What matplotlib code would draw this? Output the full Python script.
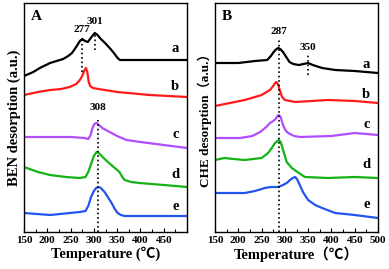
import matplotlib
matplotlib.use("Agg")
import matplotlib.pyplot as plt
from matplotlib.ticker import MultipleLocator

plt.rcParams['font.family'] = ['Liberation Serif', 'Noto Sans CJK SC', 'DejaVu Sans']
plt.rcParams['font.weight'] = 'bold'

colors = ['black', '#ff1a1a', '#b24dff', '#13b313', '#2255ee']
names = ['a', 'b', 'c', 'd', 'e']

# panel A: BEN desorption
tA = [
    [150, 170, 184, 206, 220, 234, 245, 253, 262, 270, 275, 281, 287, 295, 302, 308, 313,
     324, 334, 343, 351, 356, 360, 500],
    [150, 180, 206, 230, 248, 262, 270, 275, 279, 283, 286, 289, 292, 298, 310, 350, 420, 500],
    [150, 200, 250, 280, 288, 293, 297, 301, 306, 311, 318, 334, 350, 370, 400, 450, 500],
    [150, 180, 206, 240, 270, 282, 288, 294, 300, 306, 310, 315, 323, 335, 345, 355, 361,
     366, 380, 398, 450, 500],
    [150, 206, 270, 282, 288, 294, 300, 305, 310, 315, 323, 330, 338, 345, 351, 358, 366, 420, 500],
]
yA = [
    [156, 160, 164, 169, 171, 173, 176, 179, 185, 191, 193, 191, 190, 195, 199, 197, 194,
     189, 184, 179, 174, 172, 172, 172],
    [137, 140, 142, 143, 145, 148, 152, 156, 161, 164, 160, 150, 146, 144, 143, 140, 137, 135],
    [95, 95, 95, 94, 93, 97, 104, 108, 109, 107, 104, 100, 96, 92, 90, 87, 84],
    [65, 60, 57, 55, 54, 55, 60, 68, 76, 80, 79, 77, 73, 68, 64, 60, 55,
     52, 50, 49, 47, 45],
    [19, 17, 20, 21, 26, 35, 41, 44, 45, 44, 40, 35, 29, 23, 19, 17, 16, 16, 16],
]
labA_y = [183, 146, 97, 57, 26]

# panel B: CHE desorption
tB = [
    [150, 200, 236, 262, 270, 276, 282, 286, 290, 296, 303, 310, 318, 330, 340, 350, 360,
     380, 408, 450, 500],
    [150, 214, 250, 268, 275, 279, 282, 285, 289, 294, 300, 322, 393, 450, 500],
    [150, 204, 230, 247, 260, 268, 275, 280, 284, 287, 291, 296, 301, 307, 320, 332, 400, 450, 500],
    [150, 170, 190, 214, 250, 264, 272, 279, 284, 287, 291, 295, 300, 304, 315, 330, 343,
     393, 450, 500],
    [150, 214, 236, 250, 257, 270, 286, 296, 304, 311, 317, 322, 326, 332, 340, 350, 365,
     380, 408, 450, 500],
]
yB = [
    [169, 169, 171, 172, 176, 180, 183, 184, 183, 180, 175, 170, 168, 167, 168, 169, 167,
     164, 162, 161, 159],
    [126, 132, 137, 142, 146, 149, 150, 148, 142, 135, 132, 130, 132, 131, 129],
    [94, 94, 96, 100, 105, 109, 111, 113, 116, 117, 115, 107, 102, 99, 96, 95, 96, 99, 97],
    [72, 74, 73, 72, 74, 79, 84, 89, 91, 92, 90, 84, 76, 70, 64, 59, 55,
     54, 55, 54],
    [39, 39, 41, 43, 44, 45, 45, 47, 49, 52, 54, 55, 53, 47, 39, 32, 27,
     24, 19, 17, 14],
]
labB_y = [167, 137, 107, 67, 27]

# dashed peak markers: (temp, y0, y1, label, label_y)
peaksA = [(275, 160, 193, '277', 203), (302, 182, 199, '301', 211), (308, 0, 114, '308', 124)]
peaksB = [(287, 0, 194, '287', 200), (350, 157, 177, '350', 185)]

fig = plt.figure(figsize=(3.89, 2.69), dpi=100)
axA = fig.add_axes([24/389, 37/269, 163/389, 229/269])
axB = fig.add_axes([215/389, 37/269, 163/389, 229/269])


def draw(ax, ts, ys, laby, peaks, letter, ylabel, xlabel, xticks, ylsize):
    for t, y, c in zip(ts, ys, colors):
        ax.plot(t, y, color=c, lw=1.6, solid_joinstyle='round')
    for n, ly in zip(names, laby):
        ax.text(475, ly, n, fontsize=10.5, fontweight='bold', ha='center', va='center')
    for t, y0, y1, lab, ly in peaks:
        ax.plot([t, t], [y0, y1], 'k:', lw=1.2)
        ax.text(t, ly, lab, fontsize=8, fontweight='bold', ha='center', va='center')
    ax.text(0.04, 0.94, letter, transform=ax.transAxes, fontsize=11, fontweight='bold',
            ha='left', va='center')
    ax.set_xlim(150, 500)
    ax.set_ylim(0, 229)
    ax.set_yticks([])
    ax.set_xticks(xticks)
    ax.xaxis.set_minor_locator(MultipleLocator(25))
    ax.tick_params(axis='x', direction='in', length=3, width=0.8, labelsize=8, pad=3)
    ax.tick_params(axis='x', which='minor', direction='in', length=2, width=0.8)
    for lbl in ax.get_xticklabels():
        lbl.set_fontweight('bold')
    ax.set_xlabel(xlabel, fontsize=10.5, fontweight='bold', labelpad=1)
    ax.set_ylabel(ylabel, fontsize=ylsize, fontweight='bold', labelpad=2)
    for s in ax.spines.values():
        s.set_linewidth(1.0)


draw(axA, tA, yA, labA_y, peaksA, 'A', 'BEN desorption (a.u.)', 'Temperature (℃)',
     [150, 200, 250, 300, 350, 400, 450], 10.5)
draw(axB, tB, yB, labB_y, peaksB, 'B', 'CHE desorption（a.u.）', 'Temperature（℃）',
     [150, 200, 250, 300, 350, 400, 450, 500], 9.5)

fig.savefig('out.png', dpi=100)
